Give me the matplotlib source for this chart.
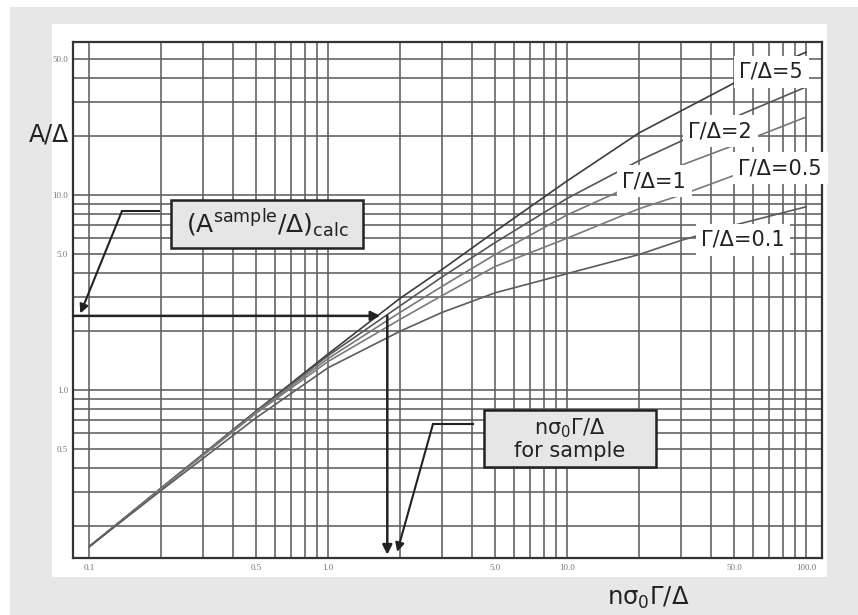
import matplotlib
matplotlib.use('Agg')
import matplotlib.pyplot as plt
from matplotlib.patches import Rectangle
from matplotlib.ticker import FixedLocator, FixedFormatter, NullFormatter

plt.rcParams['font.family'] = ['DejaVu Sans']
plt.rcParams['mathtext.fontset'] = 'dejavusans'

######################## - DATA - #############################
# n*sigma0*Gamma/Delta sample points
X_PTS = [0.1, 0.2, 0.5, 1.0, 2.0, 3.0, 5.0, 10.0, 20.0, 30.0, 50.0, 100.0]

# A/Delta, one list per Gamma/Delta
A_G5 = [0.157, 0.314, 0.78, 1.53, 2.95, 4.15, 6.5, 11.8, 20.8, 27.0, 37.5, 54.0]
A_G2 = [0.157, 0.313, 0.775, 1.50, 2.70, 3.80, 5.7, 9.6, 15.0, 18.9, 25.0, 35.8]
A_G1 = [0.157, 0.312, 0.77, 1.45, 2.50, 3.40, 4.95, 7.9, 11.6, 14.2, 18.0, 25.1]
A_G05 = [0.157, 0.311, 0.76, 1.40, 2.30, 3.05, 4.3, 6.0, 8.5, 10.0, 12.6, 16.6]
A_G01 = [0.157, 0.305, 0.72, 1.30, 2.00, 2.50, 3.15, 3.95, 4.95, 5.85, 7.0, 8.7]

CURVE_LABELS = ['Γ/Δ=5', 'Γ/Δ=2', 'Γ/Δ=1', 'Γ/Δ=0.5', 'Γ/Δ=0.1']

# sample reading shown by the arrows
SAMPLE_X = 1.77
SAMPLE_A = 2.4

X_TICKS = [0.1, 0.5, 1.0, 5.0, 10.0, 50.0, 100.0]
X_TICK_LABELS = ['0.1', '0.5', '1.0', '5.0', '10.0', '50.0', '100.0']
Y_TICKS = [0.5, 1.0, 5.0, 10.0, 50.0]
Y_TICK_LABELS = ['0.5', '1.0', '5.0', '10.0', '50.0']

X_LIM = (0.0857, 116.7)
Y_LIM = (0.1376, 60.9)

######################### - PLOT - ###############################
fig = plt.figure(figsize=(8.58, 6.15), dpi=100, facecolor='white')

# grey page and white panel behind the chart
fig.patches.append(Rectangle((10 / 858, 0), 1 - 10 / 858, 1 - 7 / 615,
                             transform=fig.transFigure, facecolor='#e7e7e7',
                             edgecolor='none', zorder=-20))
fig.patches.append(Rectangle((0.0606, 0.0618), 0.9033, 0.8992,
                             transform=fig.transFigure, facecolor='white',
                             edgecolor='none', zorder=-10))

ax = fig.add_axes([0.0851, 0.0927, 0.873, 0.839])
ax.set_xscale('log')
ax.set_yscale('log')
ax.set_xlim(*X_LIM)
ax.set_ylim(*Y_LIM)

# log grid: 1..9 in each decade, only inside the labelled range
x_grid = [m * 10.0 ** e for e in (-1, 0, 1) for m in range(1, 10)] + [100.0]
y_grid = [m * 10.0 ** e for e in (-1, 0, 1) for m in range(1, 10)
          if m * 10.0 ** e <= 50.0]

for axis, ticks, labels, grid in ((ax.xaxis, X_TICKS, X_TICK_LABELS, x_grid),
                                  (ax.yaxis, Y_TICKS, Y_TICK_LABELS, y_grid)):
    axis.set_major_locator(FixedLocator(ticks))
    axis.set_major_formatter(FixedFormatter(labels))
    axis.set_minor_locator(FixedLocator(grid))
    axis.set_minor_formatter(NullFormatter())

ax.tick_params(which='both', length=0)
ax.tick_params(axis='x', pad=4, labelsize=6.5, labelcolor='#777777',
               labelfontfamily='Liberation Serif')
ax.tick_params(axis='y', pad=3.5, labelsize=6.5, labelcolor='#777777',
               labelfontfamily='Liberation Serif')

ax.grid(True, which='both', color='#5e5e5e', lw=1.15)
ax.set_axisbelow(True)
for sp in ax.spines.values():
    sp.set_color('#333333')
    sp.set_linewidth(1.6)

curves = [A_G5, A_G2, A_G1, A_G05, A_G01]
colors = ['#3c3c3c', '#555555', '#777777', '#7a7a7a', '#5c5c5c']
for ys, c in zip(curves, colors):
    ax.plot(X_PTS, ys, color=c, lw=1.2, zorder=3)

# curve labels (white boxes hide grid and curves under them)
label_pos = [(0.932, 0.942), (0.864, 0.8275), (0.776, 0.7306),
             (0.944, 0.7558), (0.8945, 0.6163)]
for txt, (lx, ly) in zip(CURVE_LABELS, label_pos):
    ax.text(lx, ly, txt, transform=ax.transAxes, ha='center', va='center',
            fontsize=15, color='#222222', zorder=6,
            bbox=dict(facecolor='white', edgecolor='none', pad=4))

# sample arrows: from the A axis to the curve, then down to the x axis
arrow_kw = dict(arrowstyle='-|>', color='#222222', lw=1.8,
                mutation_scale=14, shrinkA=0, shrinkB=0)
ax.annotate('', xy=(SAMPLE_X * 0.935, SAMPLE_A), xytext=(X_LIM[0], SAMPLE_A),
            arrowprops=arrow_kw, zorder=8)
ax.annotate('', xy=(SAMPLE_X, Y_LIM[0] * 1.04), xytext=(SAMPLE_X, SAMPLE_A),
            arrowprops=arrow_kw, zorder=8)

# call-out boxes
lead_kw = dict(arrowstyle='-|>', color='#222222', lw=1.5,
               mutation_scale=13, shrinkA=0, shrinkB=0)

ax.add_patch(Rectangle((0.1308, 0.6008), 0.2564, 0.093, transform=ax.transAxes,
                       facecolor='#e6e6e6', edgecolor='#222222', lw=1.8,
                       zorder=7, clip_on=False))
ax.text(0.259, 0.647, r'$\mathrm{(A^{sample}/\Delta)_{calc}}$',
        transform=ax.transAxes, ha='center', va='center', fontsize=18,
        color='#222222', zorder=8)
ax.plot([0.1148, 0.0654], [0.6725, 0.6725], transform=ax.transAxes,
        color='#222222', lw=1.5, zorder=7, clip_on=False)
ax.annotate('', xy=(0.092, SAMPLE_A * 1.03), xycoords='data',
            xytext=(0.0654, 0.6725), textcoords='axes fraction',
            arrowprops=lead_kw, zorder=8)

ax.add_patch(Rectangle((0.5487, 0.1764), 0.2297, 0.1104, transform=ax.transAxes,
                       facecolor='#e6e6e6', edgecolor='#222222', lw=1.8,
                       zorder=7, clip_on=False))
ax.text(0.6636, 0.2316, r'$\mathrm{n\sigma_0\Gamma/\Delta}$' + '\nfor sample',
        transform=ax.transAxes, ha='center', va='center', fontsize=15,
        color='#222222', zorder=8, linespacing=1.05)
ax.plot([0.534, 0.4806], [0.2597, 0.2597], transform=ax.transAxes,
        color='#222222', lw=1.5, zorder=7, clip_on=False)
ax.annotate('', xy=(SAMPLE_X * 1.1, 0.148), xycoords='data',
            xytext=(0.4806, 0.2597), textcoords='axes fraction',
            arrowprops=lead_kw, zorder=8)

# axis titles
fig.text(0.0571, 0.7805, 'A/Δ', fontsize=17, ha='center', va='center',
         color='#222222')
fig.text(0.7552, 0.0276, r'$\mathrm{n\sigma_0\Gamma/\Delta}$', fontsize=17.5,
         ha='center', va='center', color='#222222')

fig.savefig('out.png', dpi=100)
